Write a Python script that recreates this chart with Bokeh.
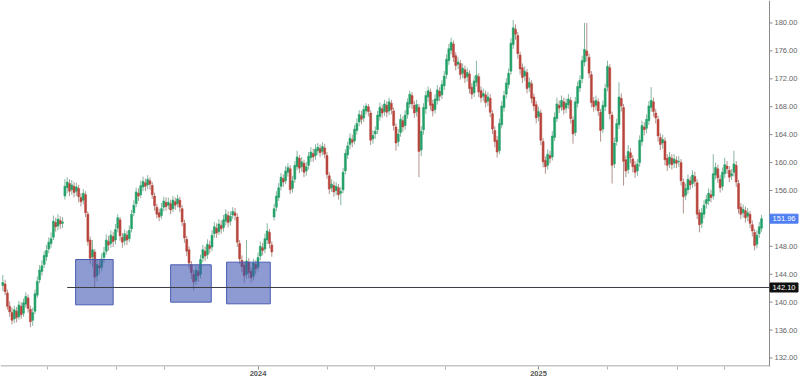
import pandas as pd
from bokeh.plotting import figure
from bokeh.models import Range1d, FixedTicker, DatetimeTickFormatter, ColumnDataSource
from bokeh.core.properties import value
from bokeh.embed import file_html
from bokeh.resources import INLINE

# ---------------- data ----------------
start_date = "2023-02-02"
step_days = 3

opens = [142.4,142.6,141.3,
139.4,138.5,137.6,138.7,137.9,139.4,138.4,139.7,140.6,139.0,
137.4,138.7,141.0,143.2,144.4,145.4,146.5,147.6,148.4,149.3,
151.4,150.9,151.7,151.3,155.2,156.4,157.0,156.1,156.6,155.9,
156.3,155.0,154.6,155.4,152.6,148.9,146.5,147.2,143.8,145.2,
145.0,146.4,147.3,148.7,148.4,149.4,148.9,150.6,151.8,149.3,
148.8,149.6,149.1,150.5,152.8,154.1,155.6,155.4,156.5,157.1,
156.8,157.4,156.7,155.2,153.6,152.8,152.4,153.6,154.3,153.9,
154.1,153.4,154.4,154.1,154.6,153.4,151.3,149.0,147.5,145.4,
144.0,143.1,144.4,144.0,146.3,147.3,146.8,148.1,147.9,149.8,
150.6,150.1,151.0,150.7,151.6,152.4,151.6,152.5,152.8,152.2,
148.4,146.0,145.3,144.0,145.7,144.4,143.7,145.4,145.0,146.6,
147.8,147.6,148.9,150.0,148.2,152.2,153.6,155.0,156.6,157.7,
157.4,158.6,159.1,156.3,157.6,159.4,160.6,159.4,159.9,158.8,
159.6,160.7,161.3,161.0,161.7,162.0,161.6,162.1,161.0,158.1,
156.4,156.7,156.0,156.4,155.6,156.1,158.8,161.1,162.6,163.3,
163.1,164.6,165.8,166.7,166.4,167.4,168.0,167.1,163.4,164.1,
164.7,166.6,167.7,167.3,168.2,167.4,168.5,167.4,165.1,163.0,
164.3,166.0,165.3,166.9,168.4,169.6,168.2,167.3,167.9,161.8,
164.7,167.7,169.4,170.1,168.4,167.6,168.9,170.2,169.7,171.0,
172.6,174.6,176.1,177.0,175.3,174.1,174.2,172.8,173.3,172.3,
172.7,170.8,170.0,171.5,172.3,170.3,169.5,169.7,168.8,169.2,
167.0,164.6,163.2,161.7,165.4,167.9,169.8,171.2,173.1,176.9,
179.1,178.2,175.4,173.6,172.4,172.9,170.8,171.3,169.4,168.3,
166.6,167.1,163.0,160.3,159.6,161.0,160.8,163.6,166.3,168.2,
168.0,168.7,167.8,168.3,168.9,166.1,164.3,168.5,170.7,172.0,
174.4,176.0,175.1,172.6,168.8,168.2,168.7,167.2,164.8,168.0,
170.8,173.6,166.8,159.8,163.0,165.4,169.2,167.9,160.4,159.0,
161.4,160.5,159.6,158.8,160.0,163.0,165.1,164.9,166.0,167.9,
168.7,167.1,166.2,163.6,162.8,163.1,160.6,159.8,160.6,159.9,
160.3,160.1,160.0,157.2,155.3,156.1,157.4,157.0,158.0,157.1,
152.8,151.3,152.6,154.1,154.5,155.4,155.2,158.2,159.1,157.6,
156.6,158.4,159.5,158.9,158.1,158.6,159.6,157.0,153.6,152.8,
153.1,152.3,152.6,151.1,150.0,148.3,149.8,150.6]

highs = [143.9,143.2,141.8,
140.1,139.2,139.5,139.3,140.2,140.0,140.5,141.4,141.1,139.5,
139.2,141.8,143.7,145.3,146.0,147.3,148.2,149.3,150.0,152.4,
152.1,152.6,152.3,152.2,157.6,157.9,157.6,157.5,157.2,157.1,
156.8,155.6,156.2,155.9,153.0,149.4,148.9,147.6,146.1,146.0,
147.0,147.9,149.7,149.5,150.3,150.1,151.2,152.6,152.2,149.9,
150.4,150.2,151.0,153.2,154.6,156.4,156.3,157.4,158.0,157.7,
158.2,157.9,157.2,155.7,154.1,153.4,154.2,155.1,155.0,155.0,
154.7,155.2,155.0,155.4,155.1,153.9,151.8,149.5,148.0,145.9,
144.6,145.4,145.2,146.8,148.2,148.0,149.0,148.8,150.3,151.5,
151.3,151.9,151.7,152.5,153.3,153.0,153.0,153.6,153.5,152.7,
148.9,146.7,145.8,148.9,146.3,145.0,146.2,146.0,147.1,148.7,
148.5,149.8,151.3,150.5,148.7,154.1,155.9,157.1,158.5,158.3,
159.5,159.9,159.6,158.1,160.2,161.7,161.1,160.8,160.4,160.1,
161.5,162.2,162.0,162.6,162.8,162.6,162.9,162.7,161.5,158.6,
157.6,157.3,157.2,156.9,156.5,159.2,161.9,163.0,164.2,164.0,
165.4,166.3,167.5,167.4,168.2,168.5,168.4,167.5,164.6,165.2,
167.4,168.6,168.3,169.0,168.8,169.3,169.0,167.9,165.6,164.8,
166.9,166.6,167.5,169.2,170.3,170.1,168.8,169.0,168.4,165.2,
168.5,170.2,170.9,170.6,169.0,169.8,171.1,170.8,171.8,173.1,
175.5,177.0,177.9,177.5,175.8,175.1,174.7,174.2,173.9,173.6,
173.2,171.4,172.4,174.6,172.8,170.9,170.6,170.3,170.1,169.8,
167.5,165.2,163.8,166.3,168.8,170.3,172.1,173.5,177.8,180.4,
179.8,178.7,175.9,174.2,173.8,173.4,172.2,171.8,169.9,168.8,
168.0,167.6,163.5,160.9,161.9,161.7,164.5,167.2,169.3,168.9,
169.6,169.3,169.2,169.8,169.4,166.6,169.4,171.6,172.5,175.3,
180.0,180.0,175.6,173.1,169.4,169.6,169.2,167.7,168.9,171.3,
174.6,174.1,167.3,163.6,166.3,171.5,169.9,168.4,161.0,162.5,
162.1,161.1,160.2,160.5,163.9,166.0,165.8,166.9,168.8,170.8,
169.3,167.7,166.7,164.2,164.0,163.6,161.2,161.5,161.2,161.2,
160.9,160.9,160.5,157.7,157.0,158.3,158.0,158.9,158.7,157.6,
153.3,153.5,154.6,155.4,156.3,156.1,161.2,160.0,159.7,158.2,
159.3,160.7,160.2,159.5,159.1,161.7,160.2,157.5,154.2,154.0,
153.7,153.5,153.1,151.7,150.5,150.3,151.5,152.5]

lows = [141.6,141.0,138.9,
137.9,136.8,137.0,137.1,137.5,137.6,137.9,139.2,138.5,136.4,
136.6,138.3,140.6,142.7,143.8,144.9,145.9,147.0,147.8,148.9,
150.1,150.3,150.5,150.6,154.7,155.6,155.2,155.4,155.0,155.2,
154.3,153.7,154.0,152.2,148.1,145.5,145.0,142.1,143.0,144.0,
144.4,145.6,146.8,147.4,147.8,147.9,148.3,150.0,148.8,147.8,
148.1,148.2,148.6,150.0,152.3,153.6,154.5,154.9,155.9,155.9,
156.2,156.1,154.8,153.1,152.0,151.6,151.9,153.0,153.1,153.3,
152.6,152.9,153.2,153.6,152.9,150.9,148.5,146.6,144.8,143.3,
141.7,142.5,142.9,143.4,145.7,145.9,146.2,147.0,147.3,149.2,
149.2,149.6,149.8,150.1,151.0,150.7,151.0,151.9,151.7,147.9,
145.5,144.3,142.7,143.4,143.4,142.8,143.1,144.0,144.4,146.0,
146.7,147.0,148.3,147.7,146.5,151.7,153.0,154.5,156.0,156.5,
156.9,158.0,155.5,155.7,157.1,158.9,158.5,158.7,157.9,158.1,
159.0,160.1,160.1,160.4,161.1,160.8,161.0,160.6,157.7,155.5,
155.8,155.1,155.3,154.7,153.9,155.6,158.3,160.5,161.9,162.2,
162.6,164.0,165.2,165.5,165.8,166.9,166.6,162.5,162.7,163.4,
164.1,166.0,166.4,166.7,166.5,166.8,166.9,164.6,161.7,162.3,
163.7,164.4,164.7,166.3,167.8,167.7,166.4,166.6,157.9,160.9,
164.0,167.0,168.7,167.5,166.6,167.0,168.3,168.8,169.1,170.4,
172.0,174.0,175.5,174.4,173.2,173.4,171.9,172.1,171.4,171.6,
169.9,169.1,169.4,170.9,169.4,168.6,168.8,167.9,168.1,166.5,
164.1,162.2,160.7,161.2,164.9,167.3,169.2,170.6,172.6,176.3,
177.6,174.9,172.6,171.4,171.7,169.9,170.1,168.5,167.4,165.6,
165.9,162.5,159.3,158.4,159.0,159.9,160.3,163.1,165.8,167.1,
167.4,166.9,167.1,167.7,165.6,162.7,163.8,167.9,170.1,171.4,
173.8,174.5,172.1,167.9,167.3,167.5,166.7,163.0,164.2,167.4,
170.2,166.2,157.0,159.2,162.4,164.8,167.3,156.7,157.9,158.4,
159.9,158.6,157.8,158.1,159.4,162.4,163.9,164.2,165.4,167.3,
166.6,165.6,163.0,161.8,162.0,159.6,158.8,159.2,159.0,159.2,
159.2,159.4,156.7,152.7,154.6,155.5,156.1,156.4,156.6,151.9,
150.0,150.6,152.0,153.4,153.9,154.3,154.7,157.6,157.1,155.7,
156.0,157.8,158.4,157.2,157.5,158.0,156.5,152.7,151.9,152.1,
151.4,151.6,150.6,149.4,147.4,147.7,149.2,150.1]

closes = [142.8,141.5,139.4,
138.6,137.4,138.9,137.8,139.6,138.2,139.9,140.8,139.1,137.2,
138.5,141.2,143.0,144.6,145.2,146.7,147.4,148.6,149.1,151.6,
150.8,151.9,151.2,151.5,156.6,157.2,155.9,156.8,155.7,156.5,
155.1,154.4,155.6,152.8,148.7,146.3,147.5,143.6,145.4,144.9,
146.2,147.1,148.9,148.2,149.6,148.7,150.4,152.1,149.5,148.6,
149.8,148.9,150.3,152.6,153.9,155.8,155.2,156.7,157.3,156.6,
157.6,156.9,155.4,153.8,152.6,152.2,153.4,154.5,153.7,154.3,
153.2,154.6,153.9,154.8,153.6,151.5,149.2,147.3,145.6,144.2,
142.9,144.6,143.8,146.1,147.5,146.6,148.3,147.7,149.6,150.8,
149.9,151.2,150.5,151.8,152.6,151.4,152.3,153.0,152.4,148.6,
146.2,145.1,143.8,145.9,144.2,143.5,145.6,144.8,146.4,148.0,
147.4,149.1,150.2,148.4,147.2,153.4,155.2,156.4,157.9,157.2,
158.8,159.3,156.1,157.4,159.6,160.8,159.2,160.1,158.6,159.4,
160.9,161.5,160.8,161.9,162.2,161.4,162.3,161.2,158.3,156.2,
156.9,155.8,156.6,155.4,155.9,158.6,161.3,162.4,163.5,162.9,
164.8,165.6,166.9,166.2,167.6,168.1,167.3,163.2,163.9,164.5,
166.8,167.9,167.1,168.4,167.2,168.7,167.6,165.3,162.8,164.1,
166.2,165.1,166.8,168.6,169.8,168.4,167.1,168.3,161.6,164.5,
167.9,169.6,170.3,168.2,167.4,169.1,170.4,169.5,171.2,172.4,
174.8,176.3,177.2,175.1,173.9,174.4,172.6,173.5,172.1,172.9,
170.6,169.8,171.7,172.5,170.1,169.3,169.9,168.6,169.4,167.2,
164.8,163.0,161.5,165.6,168.1,169.6,171.4,172.8,177.1,179.3,
178.4,175.6,173.4,172.2,173.1,170.6,171.5,169.2,168.1,166.4,
167.3,163.2,160.1,159.4,161.2,160.6,163.8,166.5,168.4,167.8,
168.9,167.6,168.5,169.1,166.3,164.1,168.7,170.9,171.8,174.6,
176.2,175.3,172.8,168.6,168.0,168.9,167.4,164.6,168.2,170.6,
173.8,167.0,159.6,162.8,165.6,169.4,168.1,160.2,158.8,161.6,
160.7,159.4,158.6,159.8,163.2,165.3,164.7,166.2,168.1,168.9,
167.3,166.4,163.8,162.6,163.3,160.4,159.6,160.8,159.7,160.5,
159.9,160.2,157.4,155.1,156.3,157.6,156.8,158.2,157.3,152.6,
151.1,152.8,153.9,154.7,155.6,155.0,158.4,159.3,157.8,156.4,
158.6,159.7,159.1,157.9,158.4,159.8,157.2,153.4,152.6,153.3,
152.1,152.8,151.3,150.2,148.1,149.6,150.8,151.96]

# highlighted zones (support boxes)
zone_start = ["2023-05-08", "2023-09-09", "2023-11-21"]
zone_end = ["2023-06-26", "2023-11-01", "2024-01-17"]
zone_top = [146.11, 145.35, 145.73]
zone_bottom = [139.62, 140.00, 139.76]

support_level = 142.10
support_start = "2023-04-27"
last_price = 151.96

# visible price-axis labels (152.00 is hidden under the last-price tag)
y_ticks = [132, 136, 140, 144, 148, 156, 160, 164, 168, 172, 176, 180]
x_major_ticks = ["2024-01-01", "2025-01-01"]
x_minor_ticks = ["2023-04-01", "2023-07-01", "2023-09-01", "2024-04-01", "2024-06-01",
                 "2024-09-01", "2025-04-01", "2025-07-01", "2025-09-01"]

# ---------------- layout constants ----------------
W, H_FRAME, AXIS_X_PX = 800, 366, 769
X0 = pd.Timestamp("2023-01-30")          # left edge of the plot
XA = pd.Timestamp("2025-10-29 10:00")    # position of the price axis
px = (XA - X0) / AXIS_X_PX               # time span of one pixel
X1 = X0 + px * W
Y0, Y1 = 130.78, 183.22
ypx = (Y1 - Y0) / H_FRAME

FONT = value("Liberation Sans")

# ---------------- build ----------------
def ms(d):
    return pd.Timestamp(d).value / 1e6

dates = pd.date_range(start_date, periods=len(closes), freq=f"{step_days}D")
up = [c >= o for o, c in zip(opens, closes)]
UP_BODY, DOWN_BODY = "#22a068", "#b8453c"
UP_WICK, DOWN_WICK = "#86b7a0", "#b3928c"

src = ColumnDataSource(dict(
    date=dates, open=opens, high=highs, low=lows, close=closes,
    top=[max(o, c) for o, c in zip(opens, closes)],
    bottom=[min(o, c) for o, c in zip(opens, closes)],
    body=[UP_BODY if u else DOWN_BODY for u in up],
    wick=[UP_WICK if u else DOWN_WICK for u in up],
))

p = figure(x_axis_type="datetime", y_axis_location=None,
           frame_width=W, frame_height=H_FRAME,
           x_range=Range1d(X0, X1), y_range=Range1d(Y0, Y1),
           output_backend="svg", toolbar_location=None,
           min_border_left=0, min_border_top=0, min_border_right=0, min_border_bottom=0,
           background_fill_color="white", border_fill_color="white")
p.outline_line_color = None
p.grid.grid_line_color = None

# candles
p.segment(x0="date", y0="high", x1="date", y1="low", line_color="wick",
          line_width=1, source=src)
body_w = pd.Timedelta(days=2.6).total_seconds() * 1000
p.vbar(x="date", top="top", bottom="bottom", width=body_w, fill_color="body",
       line_color="body", line_width=0.5, source=src)

# support zones
zones = ColumnDataSource(dict(left=pd.to_datetime(zone_start), right=pd.to_datetime(zone_end),
                              top=zone_top, bottom=zone_bottom))
p.quad(left="left", right="right", top="top", bottom="bottom", source=zones,
       fill_color="#3d53b3", fill_alpha=0.58, line_color="#4a5cb2", line_width=1)

# support line
p.segment(x0=[pd.Timestamp(support_start)], y0=[support_level], x1=[XA], y1=[support_level],
          line_color="#3c3c44", line_width=1)

# price axis (right), drawn inside the wide frame
AX_COL = "#8a8a8a"
p.segment(x0=[XA], y0=[Y0], x1=[XA], y1=[Y1], line_color=AX_COL, line_width=1)
p.segment(x0=[X0], y0=[Y0 + 0.5 * ypx], x1=[XA], y1=[Y0 + 0.5 * ypx],
          line_color=AX_COL, line_width=1)
n = len(y_ticks)
p.segment(x0=[XA] * n, y0=y_ticks, x1=[XA + 3 * px] * n, y1=y_ticks,
          line_color=AX_COL, line_width=1)
p.text(x=[XA + 5 * px] * n, y=y_ticks, text=[f"{v:.2f}" for v in y_ticks],
       text_font=FONT, text_font_size="7.5px", text_color="#666666",
       text_baseline="middle", text_align="left")

# price tags
tag_prices = [last_price, support_level]
tag_colors = ["#4f7ff2", "#111111"]
tag_x = [XA + 14.5 * px] * 2
p.rect(x=tag_x, y=tag_prices, width=28, height=9, width_units="screen",
       height_units="screen", fill_color=tag_colors, line_color=tag_colors)
p.text(x=tag_x, y=tag_prices, text=[f"{v:.2f}" for v in tag_prices],
       text_font=FONT, text_font_size="7.5px", text_color="white",
       text_baseline="middle", text_align="center")

# time axis (bottom)
xax = p.xaxis[0]
xax.ticker = FixedTicker(ticks=[ms(d) for d in x_major_ticks],
                         minor_ticks=[ms(d) for d in x_minor_ticks])
fmt = "%Y"
xax.formatter = DatetimeTickFormatter(years=fmt, months=fmt, days=fmt, hours=fmt,
                                      hourmin=fmt, minutes=fmt, minsec=fmt, seconds=fmt,
                                      milliseconds=fmt, microseconds=fmt)
xax.axis_line_color = None
xax.major_tick_line_color = AX_COL
xax.minor_tick_line_color = "#b0b0b0"
xax.major_tick_out = 3
xax.major_tick_in = 0
xax.minor_tick_out = 3
xax.minor_tick_in = 0
xax.major_label_standoff = 1
xax.major_label_text_font = "Liberation Sans"
xax.major_label_text_font_size = "7.5px"
xax.major_label_text_font_style = "bold"
xax.major_label_text_color = "#555555"

open("out.html", "w").write(file_html(p, INLINE))
